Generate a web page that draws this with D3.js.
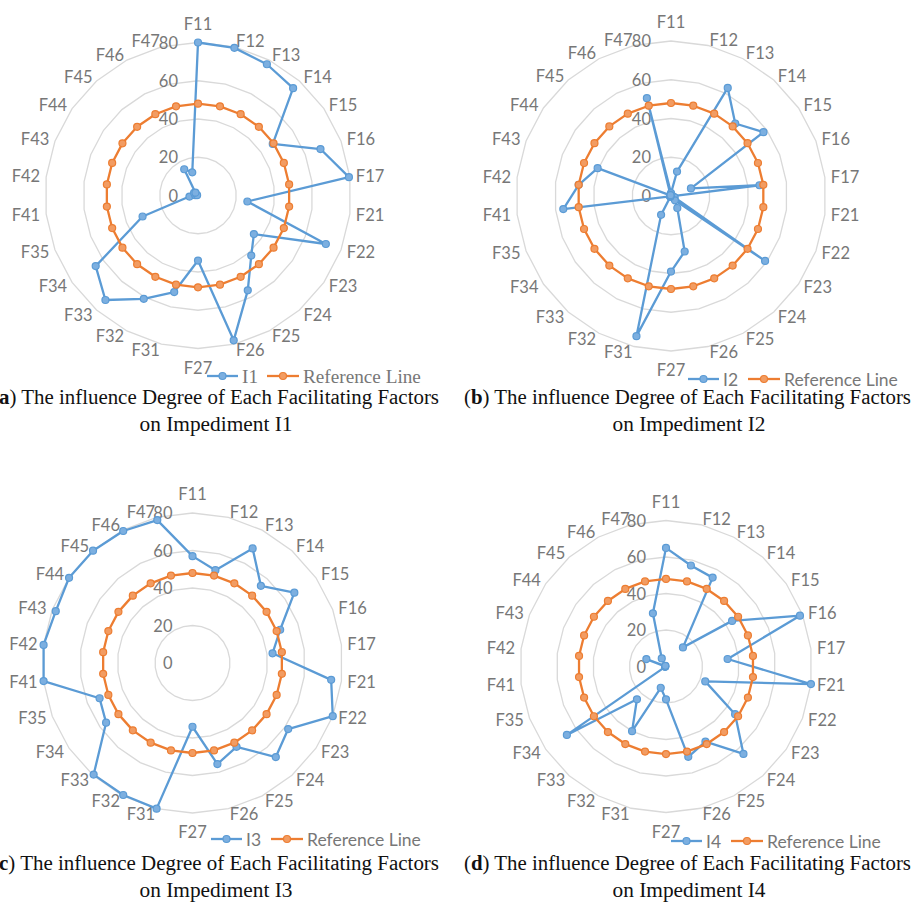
<!DOCTYPE html>
<html><head><meta charset="utf-8">
<script src="https://cdn.jsdelivr.net/npm/d3@7"></script>
<style>body{margin:0;background:#fff;overflow:hidden} svg{display:block}</style>
</head><body><svg id="chart" width="911" height="911"></svg>
<script>
// ---------------- data ----------------
const categories = ["F11","F12","F13","F14","F15","F16","F17","F21","F22","F23","F24","F25","F26","F27","F31","F32","F33","F34","F35","F41","F42","F43","F44","F45","F46","F47"];
const radialTicks = [0, 20, 40, 60, 80];
const i1 = [80, 79.5, 77.5, 75, 47.5, 68.5, 79.5, 26, 71.5, 35.5, 42, 56, 78, 34, 52, 61, 73, 65, 31, 4.5, 1.5, 0.5, 2.5, 2, 15.5, 12.5];
const i2 = [1.5, 13, 63, 50, 58, 11, 46, 1, 2, 59, 3, 7, 29.5, 39, 74.5, 11, 0.5, 0.5, 0.5, 56, 48, 40.5, 0.5, 0.5, 0.5, 52];
const i3 = [57, 51, 69, 55, 66, 50, 43, 74.5, 80, 62, 67, 50.5, 55.5, 34, 80, 79.5, 79.5, 56, 53, 80, 80, 78, 80, 80, 79.5, 78.5];
const i4 = [65, 57, 55, 14, 44, 78.5, 34, 80, 23, 46, 64, 46.5, 51, 18, 12, 40, 24, 66, 0.5, 0.5, 0.5, 11.5, 0.5, 0.5, 5, 30];
const referenceLine = [48, 48, 48, 48, 48, 48, 48, 48, 48, 48, 48, 48, 48, 48, 48, 48, 48, 48, 48, 48, 48, 48, 48, 48, 48, 48];
const seriesNames = ["I1", "I2", "I3", "I4"];
const referenceName = "Reference Line";
const captionLetters = ["a", "b", "c", "d"];
const captionLine1 = ") The influence Degree of Each Facilitating Factors";
const captionLine2 = ["on Impediment I1", "on Impediment I2", "on Impediment I3", "on Impediment I4"];

// ---------------- layout ----------------
const svg = d3.select("#chart");
const BLUE = "#5B9BD5", ORANGE = "#ED7D31", GRID = "#d9d9d9", TXT = "#777777";
const panels = [
  {series: i1, cx: 198, cy: 195.5, R: 153, lx: 207, ly: 376, serifLegend: true, capX: -8, capY: 404, capC: 216},
  {series: i2, cx: 671, cy: 196, R: 155, lx: 688, ly: 379, serifLegend: false, capX: 464, capY: 404, capC: 689},
  {series: i3, cx: 192.5, cy: 663, R: 150, lx: 211, ly: 839, serifLegend: false, capX: -8, capY: 870, capC: 216},
  {series: i4, cx: 666, cy: 666.5, R: 146, lx: 671, ly: 841, serifLegend: false, capX: 464, capY: 870, capC: 689}
];
const N = categories.length;
const angle = d3.scaleLinear().domain([0, N]).range([0, 2 * Math.PI]);

function fitSize(sel, base, target) {
  const len = sel.node().getComputedTextLength();
  sel.attr("font-size", base * target / len);
}

panels.forEach((p, pi) => {
  const g = svg.append("g").attr("transform", `translate(${p.cx},${p.cy})`);
  const r = d3.scaleLinear().domain([0, 80]).range([0, p.R]);

  // grid rings (polygons)
  const ringLine = d3.lineRadial().angle((d, i) => angle(i)).radius(d => r(d)).curve(d3.curveLinearClosed);
  radialTicks.filter(t => t > 0).forEach(t => {
    g.append("path").attr("d", ringLine(categories.map(() => t)))
      .attr("fill", "none").attr("stroke", GRID).attr("stroke-width", 1.3);
  });

  // tick labels
  radialTicks.forEach(t => {
    g.append("text").attr("x", -20).attr("y", -r(t)).attr("text-anchor", "end")
      .attr("dominant-baseline", "central").attr("font-family", "Lato").attr("font-size", 16.5)
      .attr("fill", TXT).text(t);
  });

  // category labels
  categories.forEach((c, i) => {
    const a = angle(i), s = Math.sin(a), co = Math.cos(a);
    const px = (p.R + 6) * s, py = -(p.R + 6) * co;
    let anchor = "middle", dy = 0;
    if (Math.abs(s) < 0.01) { dy = co > 0 ? -13 : 13; }
    else anchor = s > 0 ? "start" : "end";
    g.append("text").attr("x", px).attr("y", py + dy).attr("text-anchor", anchor)
      .attr("dominant-baseline", "central").attr("font-family", "Lato").attr("font-size", 16.5)
      .attr("fill", TXT).text(c);
  });

  // series
  const line = d3.lineRadial().angle((d, i) => angle(i)).radius(d => r(d)).curve(d3.curveLinearClosed);
  const drawSeries = (vals, color, fill) => {
    g.append("path").attr("d", line(vals)).attr("fill", "none").attr("stroke", color)
      .attr("stroke-width", 2.3).attr("stroke-linejoin", "round");
    g.selectAll(null).data(vals).enter().append("circle")
      .attr("cx", (d, i) => r(d) * Math.sin(angle(i)))
      .attr("cy", (d, i) => -r(d) * Math.cos(angle(i)))
      .attr("r", 3.5).attr("fill", fill).attr("stroke", color).attr("stroke-width", 1.2);
  };
  drawSeries(p.series, BLUE, "#7cafe0");
  drawSeries(referenceLine, ORANGE, "#f29c62");

  // legend
  const lg = svg.append("g").attr("transform", `translate(${p.lx},${p.ly})`);
  const fam = p.serifLegend ? "Liberation Serif" : "Lato";
  lg.append("line").attr("x1", 0).attr("x2", 31).attr("stroke", BLUE).attr("stroke-width", 2.3);
  lg.append("circle").attr("cx", 15.5).attr("r", 3.5).attr("fill", "#7cafe0").attr("stroke", BLUE).attr("stroke-width", 1.2);
  const t1 = lg.append("text").attr("x", 35).attr("dominant-baseline", "central").attr("font-family", fam)
    .attr("font-size", 16).attr("fill", TXT).text(seriesNames[pi]);
  lg.append("line").attr("x1", 60).attr("x2", 92).attr("stroke", ORANGE).attr("stroke-width", 2.3);
  lg.append("circle").attr("cx", 76).attr("r", 3.5).attr("fill", "#f29c62").attr("stroke", ORANGE).attr("stroke-width", 1.2);
  const t2 = lg.append("text").attr("x", 96).attr("dominant-baseline", "central").attr("font-family", fam)
    .attr("font-size", 16).attr("fill", TXT).text(referenceName);
  fitSize(t2, 16, p.serifLegend ? 118 : 114);
  t1.attr("font-size", t2.attr("font-size"));

  // caption
  const c1 = svg.append("text").attr("x", p.capX).attr("y", p.capY).attr("font-family", "Liberation Serif")
    .attr("font-size", 20).attr("fill", "#111").attr("textLength", 447).attr("lengthAdjust", "spacingAndGlyphs");
  c1.append("tspan").text("(");
  c1.append("tspan").attr("font-weight", "bold").text(captionLetters[pi]);
  c1.append("tspan").text(captionLine1);
  svg.append("text").attr("x", p.capC).attr("y", p.capY + 26.5).attr("text-anchor", "middle")
    .attr("font-family", "Liberation Serif").attr("font-size", 20).attr("fill", "#111")
    .attr("textLength", 153).attr("lengthAdjust", "spacingAndGlyphs").text(captionLine2[pi]);
});
</script></body></html>
